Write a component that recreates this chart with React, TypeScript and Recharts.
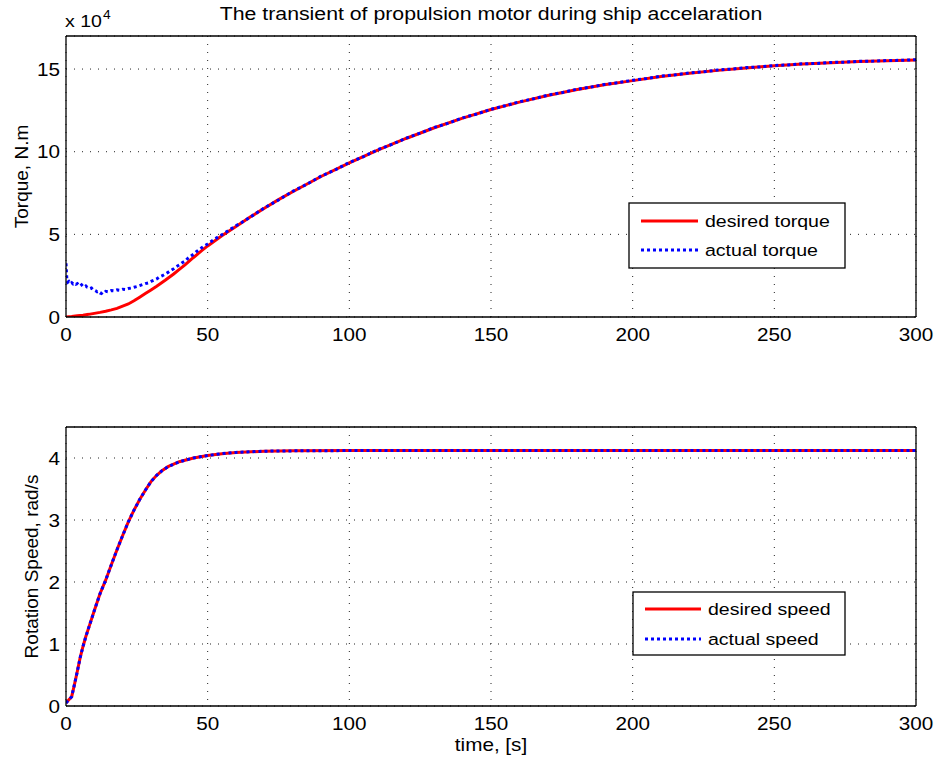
import React from "react";
import { LineChart, Line, XAxis, YAxis, CartesianGrid } from "recharts";

// ---------- data ----------
const timeTicks = [0, 50, 100, 150, 200, 250, 300];
const torqueTicks = [0, 5, 10, 15];
const speedTicks = [0, 1, 2, 3, 4];

// torque in units of 1e4 N.m
const desiredTorqueTime = [0, 2, 4, 6, 8, 10, 12, 14, 16, 18, 20, 22, 24, 26, 28, 30, 32, 35, 38, 40, 42, 45, 48, 50, 55, 60, 65, 70, 75, 80, 90, 100, 110, 120, 130, 140, 150, 160, 170, 180, 190, 200, 210, 220, 230, 240, 250, 260, 270, 280, 290, 300];
const desiredTorque = [0, 0.03, 0.07, 0.11, 0.16, 0.22, 0.28, 0.35, 0.43, 0.52, 0.66, 0.79, 0.98, 1.2, 1.42, 1.64, 1.86, 2.22, 2.6, 2.88, 3.15, 3.6, 4.03, 4.3, 4.92, 5.48, 6.05, 6.58, 7.1, 7.58, 8.5, 9.33, 10.1, 10.8, 11.45, 12.03, 12.55, 13.0, 13.4, 13.75, 14.05, 14.3, 14.55, 14.75, 14.92, 15.07, 15.2, 15.3, 15.38, 15.45, 15.5, 15.55];

const actualTorqueTime = [0, 0.3, 0.6, 1, 1.5, 2, 2.5, 3, 3.5, 4, 4.5, 5, 5.5, 6, 6.5, 7, 7.5, 8, 8.5, 9, 9.5, 10, 10.5, 11, 11.5, 12, 12.5, 13, 13.5, 14, 15, 16, 17, 18, 19, 20, 21, 22, 23, 24, 25, 26, 27, 28, 29, 30, 31, 32, 33, 34, 35, 36, 37, 38, 39, 40, 41, 42, 43, 44, 45, 46, 47, 48, 49, 50, 52, 54, 56, 58, 60, 62, 65, 70, 75, 80, 85, 90, 95, 100, 105, 110, 115, 120, 125, 130, 135, 140, 145, 150, 155, 160, 165, 170, 175, 180, 185, 190, 195, 200, 205, 210, 215, 220, 225, 230, 235, 240, 245, 250, 255, 260, 265, 270, 275, 280, 285, 290, 295, 300];
const actualTorque = [3.25, 2.3, 2.1, 2.15, 2.02, 2.08, 2.0, 2.05, 1.98, 2.02, 1.92, 1.88, 1.95, 1.85, 1.82, 1.88, 1.8, 1.78, 1.72, 1.75, 1.66, 1.62, 1.58, 1.52, 1.55, 1.45, 1.42, 1.5, 1.47, 1.55, 1.52, 1.6, 1.58, 1.64, 1.62, 1.68, 1.66, 1.72, 1.75, 1.8, 1.84, 1.9, 1.96, 2.02, 2.06, 2.15, 2.22, 2.3, 2.42, 2.5, 2.6, 2.7, 2.82, 2.92, 3.05, 3.15, 3.28, 3.38, 3.55, 3.68, 3.8, 3.95, 4.08, 4.2, 4.32, 4.42, 4.66, 4.88, 5.08, 5.3, 5.52, 5.72, 6.04, 6.6, 7.08, 7.6, 8.03, 8.52, 8.9, 9.35, 9.7, 10.12, 10.44, 10.82, 11.12, 11.47, 11.73, 12.05, 12.28, 12.57, 12.78, 13.02, 13.2, 13.42, 13.57, 13.77, 13.9, 14.07, 14.18, 14.32, 14.43, 14.57, 14.65, 14.77, 14.83, 14.94, 15.0, 15.09, 15.13, 15.22, 15.25, 15.32, 15.34, 15.4, 15.42, 15.47, 15.48, 15.52, 15.53, 15.57];

// rotation speed, rad/s
const speedTime = [0, 1, 2, 3, 4, 5, 6, 7, 8, 10, 12, 14, 16, 18, 20, 22, 24, 26, 28, 30, 32, 34, 36, 38, 40, 45, 50, 55, 60, 70, 80, 100, 150, 200, 250, 300];
const desiredSpeed = [0.05, 0.1, 0.15, 0.35, 0.56, 0.78, 0.96, 1.12, 1.26, 1.54, 1.81, 2.03, 2.28, 2.52, 2.75, 2.97, 3.16, 3.33, 3.48, 3.62, 3.72, 3.8, 3.86, 3.9, 3.94, 4.0, 4.04, 4.07, 4.09, 4.11, 4.115, 4.12, 4.12, 4.12, 4.12, 4.12];
const actualSpeed = [0.05, 0.1, 0.15, 0.35, 0.56, 0.78, 0.96, 1.12, 1.26, 1.54, 1.81, 2.03, 2.28, 2.52, 2.75, 2.97, 3.16, 3.33, 3.48, 3.62, 3.72, 3.8, 3.86, 3.9, 3.94, 4.0, 4.04, 4.07, 4.09, 4.11, 4.115, 4.12, 4.12, 4.12, 4.12, 4.12];

const desiredTorqueData = desiredTorqueTime.map((t, i) => ({ t, v: desiredTorque[i] }));
const actualTorqueData = actualTorqueTime.map((t, i) => ({ t, v: actualTorque[i] }));
const desiredSpeedData = speedTime.map((t, i) => ({ t, v: desiredSpeed[i] }));
const actualSpeedData = speedTime.map((t, i) => ({ t, v: actualSpeed[i] }));

// ---------- style ----------
const FONT = '"Liberation Sans", Arial, Helvetica, sans-serif';
const RED = "#ff0000";
const BLUE = "#0000ff";
const STRETCH = 1.15;

const XTick = (props: any) => {
  const { x, y, payload } = props;
  return (
    <text transform={`translate(${x},${y + 24}) scale(${STRETCH},1)`} textAnchor="middle" fontSize={18} fontFamily={FONT} fill="#000">
      {payload.value}
    </text>
  );
};

const YTick = (props: any) => {
  const { x, y, payload } = props;
  return (
    <text transform={`translate(${x - 6},${y + 6.5}) scale(${STRETCH},1)`} textAnchor="end" fontSize={18} fontFamily={FONT} fill="#000">
      {payload.value}
    </text>
  );
};

type PanelProps = {
  width: number;
  height: number;
  yDomain: [number, number];
  yTicks: number[];
  desired: { t: number; v: number }[];
  actual: { t: number; v: number }[];
};

const Panel = ({ width, height, yDomain, yTicks, desired, actual }: PanelProps) => (
  <LineChart width={width} height={height} margin={{ top: 36, right: 19, bottom: 0, left: 6 }}>
    <CartesianGrid stroke="#222" strokeDasharray="1 7" strokeWidth={1} />
    <XAxis
      dataKey="t"
      type="number"
      domain={[0, 300]}
      ticks={timeTicks}
      interval={0}
      allowDataOverflow
      height={28}
      tickSize={0}
      tickMargin={0}
      tickLine={false}
      axisLine={{ stroke: "#000", strokeWidth: 1.3 }}
      tick={<XTick />}
    />
    <XAxis xAxisId="bm" dataKey="t" type="number" domain={[0, 300]} ticks={timeTicks} interval={0} allowDataOverflow mirror tick={false} tickSize={6} axisLine={false} tickLine={{ stroke: "#000" }} />
    <XAxis xAxisId="tm" orientation="top" dataKey="t" type="number" domain={[0, 300]} ticks={timeTicks} interval={0} allowDataOverflow mirror tick={false} tickSize={6} axisLine={{ stroke: "#000", strokeWidth: 1.3 }} tickLine={{ stroke: "#000" }} />
    <YAxis
      type="number"
      domain={yDomain}
      ticks={yTicks}
      interval={0}
      allowDataOverflow
      width={60}
      tickSize={0}
      tickMargin={0}
      tickLine={false}
      axisLine={{ stroke: "#000", strokeWidth: 1.3 }}
      tick={<YTick />}
    />
    <YAxis yAxisId="lm" type="number" domain={yDomain} ticks={yTicks} interval={0} allowDataOverflow mirror tick={false} tickSize={6} axisLine={false} tickLine={{ stroke: "#000" }} />
    <YAxis yAxisId="rm" orientation="right" type="number" domain={yDomain} ticks={yTicks} interval={0} allowDataOverflow mirror tick={false} tickSize={6} axisLine={{ stroke: "#000", strokeWidth: 1.3 }} tickLine={{ stroke: "#000" }} />
    <Line data={desired} dataKey="v" type="linear" stroke={RED} strokeWidth={3} dot={false} isAnimationActive={false} legendType="none" />
    <Line data={actual} dataKey="v" type="linear" stroke={BLUE} strokeWidth={3} strokeDasharray="3 3" dot={false} isAnimationActive={false} legendType="none" />
  </LineChart>
);

const LegendBox = ({ x, y, w, h, labels, lineX1, lineX2, textX, rowY }: any) => (
  <g>
    <rect x={x} y={y} width={w} height={h} fill="#fff" stroke="#000" strokeWidth={1.3} />
    <line x1={lineX1} x2={lineX2} y1={rowY[0]} y2={rowY[0]} stroke={RED} strokeWidth={3} />
    <line x1={lineX1} x2={lineX2} y1={rowY[1]} y2={rowY[1]} stroke={BLUE} strokeWidth={3} strokeDasharray="3 3" />
    {labels.map((s: string, i: number) => (
      <text key={s} transform={`translate(${textX},${rowY[i] + 6}) scale(${STRETCH},1)`} fontSize={17} fontFamily={FONT} fill="#000">
        {s}
      </text>
    ))}
  </g>
);

export default function App() {
  return (
    <div style={{ position: "absolute", left: 0, top: 0, width: 935, height: 761, background: "#fff", fontFamily: FONT }}>
      <div style={{ position: "absolute", left: 0, top: 0 }}>
        <Panel width={935} height={345} yDomain={[0, 17]} yTicks={torqueTicks} desired={desiredTorqueData} actual={actualTorqueData} />
      </div>
      <div style={{ position: "absolute", left: 0, top: 391 }}>
        <Panel width={935} height={343} yDomain={[0, 4.5]} yTicks={speedTicks} desired={desiredSpeedData} actual={actualSpeedData} />
      </div>
      <svg width={935} height={761} style={{ position: "absolute", left: 0, top: 0, pointerEvents: "none" }}>
        <text transform={`translate(491,20) scale(${STRETCH},1)`} textAnchor="middle" fontSize={18.5} fontFamily={FONT} fill="#000">
          The transient of propulsion motor during ship accelaration
        </text>
        <text transform={`translate(65,27) scale(${STRETCH},1)`} fontSize={17} fontFamily={FONT} fill="#000">
          x 10
        </text>
        <text transform={`translate(103,19) scale(${STRETCH},1)`} fontSize={12} fontFamily={FONT} fill="#000">
          4
        </text>
        <text transform="translate(28,176.5) rotate(-90)" textAnchor="middle" fontSize={19} fontFamily={FONT} fill="#000">
          Torque, N.m
        </text>
        <text transform="translate(38,566.5) rotate(-90)" textAnchor="middle" fontSize={19} fontFamily={FONT} fill="#000">
          Rotation Speed, rad/s
        </text>
        <text transform={`translate(491,751) scale(${STRETCH},1)`} textAnchor="middle" fontSize={18} fontFamily={FONT} fill="#000">
          time, [s]
        </text>
        <LegendBox x={629} y={203} w={216} h={65} labels={["desired torque", "actual torque"]} lineX1={641} lineX2={698} textX={705} rowY={[221, 250]} />
        <LegendBox x={633} y={592} w={212} h={63} labels={["desired speed", "actual speed"]} lineX1={645} lineX2={701} textX={708} rowY={[609, 639]} />
      </svg>
    </div>
  );
}
